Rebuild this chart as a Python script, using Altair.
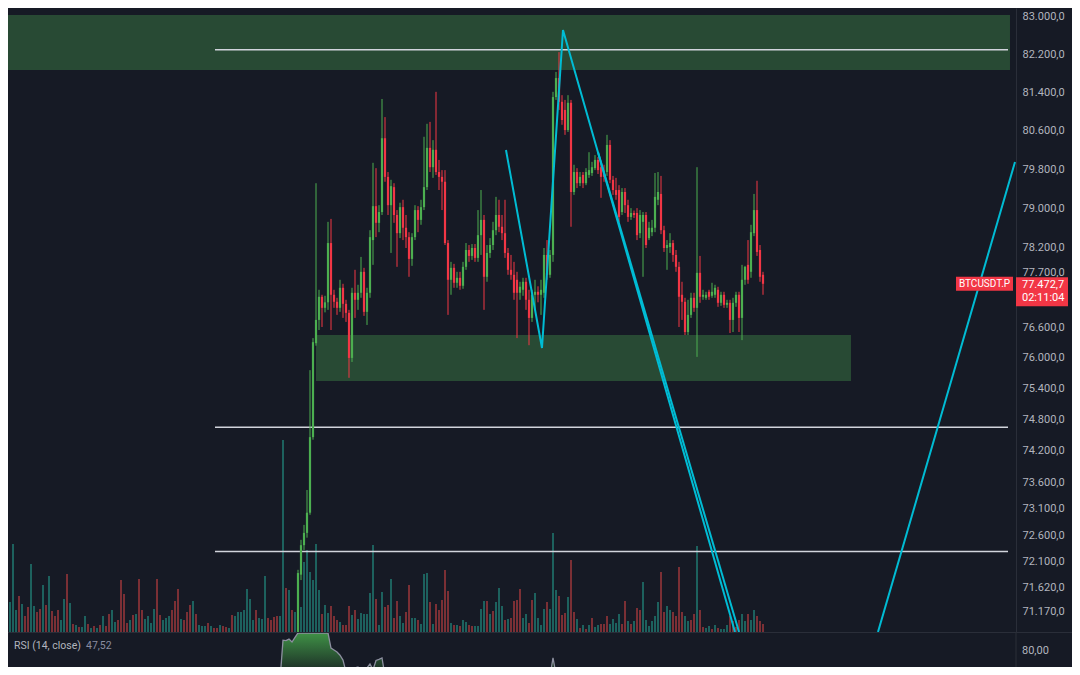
import altair as alt
import pandas as pd
import numpy as np

# ---------------- colours / styles ----------------
BG = "#161a25"
UP = "#4caf50"
DOWN = "#f23645"
VOL_UP = "#1f6f69"
VOL_DOWN = "#8e3439"
ZONE = "#284a34"
LEVEL = "#d1d4dc"
CYAN = "#00bcd4"
TEXT = "#b2b5be"
SEP = "#2a2e39"
FONT = "Roboto"

# ---------------- data ----------------
K0 = 96  # time index of the first candle visible in the price window

opens = [70660, 71860, 72410, 72640, 73020, 74460, 76290, 76750, 77210,
         76990,
         77100, 78290, 77250, 77110, 76990, 77390, 77070, 76890, 76000, 77290,
         77150, 77290, 77710, 76910, 77290, 78350, 79040, 78700, 78920, 80440,
         79640, 79060, 79430, 78860, 78490, 79020, 78600, 78410, 77970, 78410,
         78960, 78760, 79020, 79430, 80240, 79840, 80200, 79740, 79640, 79540,
         78290, 77550, 77790, 77490, 77590, 77430, 77810, 78150, 78030, 78190,
         77990, 78450, 78760, 77610, 78090, 78250, 78550, 78860, 78620, 78490,
         78090, 77750, 77650, 77550, 77290, 77350, 77510, 77150, 76790, 77250,
         77310,
         77250, 77290, 78050, 77650, 78050, 81300, 81700, 81200, 81030, 80610,
         81180, 79330, 79740, 79510, 79680, 79510, 79680, 79720, 79820, 79990,
         79840, 79740, 79740, 80300, 79580, 79370, 79370, 78920, 79330, 79060,
         78820, 78900,
         78900, 78490, 78720, 78860, 78390, 78510, 78600, 79170, 79290, 78550,
         78190, 78210, 78290, 78050, 77810, 77250, 77110, 76510, 76850, 77190,
         76990, 77690, 77210, 77190, 77310, 77230, 77250, 77350, 77090, 77250,
         77050,
         77090, 76750, 77090, 77250, 76790, 77550, 77850, 77710, 78490, 78960,
         78150, 77650]

highs = [71950, 72510, 72790, 73450, 75760, 76390, 79510, 77350, 77250,
         77230,
         78720, 78780, 77350, 77190, 77550, 77470, 77150, 76950, 77390, 77750,
         77450, 78010, 77790, 77390, 78550, 79930, 79820, 79060, 81260, 80880,
         79740, 79580, 79510, 78960, 79110, 79170, 78860, 78510, 78490, 79060,
         79040, 79170, 80470, 80740, 80780, 80400, 81410, 79990, 79780, 79780,
         78350, 77910, 77870, 77710, 77710, 77910, 78290, 78250, 78270, 78270,
         78960, 79370, 78860, 78250, 78390, 78720, 79230, 79170, 78860, 79170,
         78190, 78050, 77910, 77710, 77510, 77590, 77590, 77350, 77350, 77550,
         77420,
         77550, 78190, 78350, 78150, 81410, 81830, 82250, 81340, 81240, 81340,
         81240, 79890, 79820, 79740, 79740, 79820, 80150, 79950, 80090, 80050,
         79930, 79890, 80510, 80400, 79660, 79620, 79470, 79410, 79410, 79170,
         79000, 78950,
         79000, 78960, 78920, 78920, 78720, 78760, 79720, 79740, 79660, 78640,
         78350, 78490, 78350, 78150, 77910, 77510, 77190, 77150, 77290, 77290,
         79840, 78030, 77350, 77310, 77350, 77490, 77450, 77410, 77310, 77310,
         77150,
         77150, 77190, 77310, 77310, 77850, 77830, 78350, 78660, 79290, 79560,
         78250, 77710]

lows = [70570, 71760, 72320, 72550, 72980, 74410, 76240, 76550, 76610,
        76900,
        76950, 76550, 76990, 76850, 76910, 76790, 76710, 75610, 75920, 76790,
        76950, 77190, 76830, 76650, 77190, 77850, 78410, 78510, 78860, 79540,
        78860, 78090, 78700, 77810, 78390, 78350, 78190, 77610, 77830, 78350,
        78510, 78660, 78960, 79370, 79740, 79620, 79680, 79370, 78960, 78250,
        76850, 77250, 77390, 77390, 77350, 77370, 77750, 77910, 77950, 77910,
        77910, 78050, 76950, 77510, 77990, 78150, 78450, 78510, 78350, 77990,
        77650, 77550, 77150, 76390, 77150, 77230, 76950, 76250, 76710, 76950,
        77100,
        76850, 77190, 77550, 77590, 77910, 81240, 81030, 80720, 80510, 80570,
        78620, 79270, 79410, 79450, 79410, 79470, 79620, 79660, 79780, 79700,
        79210, 79540, 79660, 79510, 79270, 79170, 78720, 78860, 78900, 78720,
        78760, 78800,
        78350, 78390, 77610, 78190, 78350, 78430, 78510, 79060, 78470, 78110,
        77750, 78090, 77910, 77710, 76610, 76750, 76450, 76450, 76790, 76910,
        76020, 77090, 77150, 77150, 77150, 77190, 77190, 77010, 77030, 76990,
        76990,
        76490, 76510, 77010, 76510, 76350, 77450, 77470, 77590, 78430, 78030,
        77510, 77250]

closes = [71890, 72410, 72640, 73020, 74460, 76310, 76750, 77210, 76990,
          77100,
          78290, 77250, 77110, 76990, 77390, 77070, 76890, 76000, 77290, 77150,
          77290, 77710, 76910, 77290, 78410, 79040, 78700, 78920, 80440, 79640,
          79060, 79450, 78860, 78490, 79020, 78600, 78410, 77970, 78410, 78960,
          78760, 79020, 79430, 80240, 79840, 80200, 79740, 79640, 79540, 78290,
          77550, 77790, 77490, 77590, 77430, 77810, 78150, 78030, 78190, 77990,
          78450, 78760, 77610, 78090, 78250, 78550, 78860, 78620, 78490, 78090,
          77750, 77650, 77290, 77290, 77410, 77510, 77150, 76790, 77250, 77310,
          77250,
          77350, 78050, 77650, 78050, 81300, 81700, 81200, 80820, 80610, 81180,
          79330, 79740, 79510, 79640, 79510, 79740, 79780, 79840, 79990, 79780,
          79640, 79640, 80300, 79580, 79370, 79270, 78820, 79330, 79060, 78820,
          78900, 78860,
          78450, 78860, 78860, 78250, 78600, 78600, 79230, 79330, 78550, 78190,
          78250, 78290, 78050, 77810, 77210, 77110, 76510, 76850, 77190, 76990,
          77690, 77210, 77250, 77250, 77210, 77310, 77390, 77090, 77250, 77050,
          77090,
          76750, 77090, 77250, 76790, 77550, 77810, 77550, 78510, 78960, 78110,
          77610, 77470]

volumes = [30, 88, 22, 36, 28, 16, 25, 68, 26, 20,
           23, 47, 27, 56, 21, 16, 22, 12, 33, 58,
           29, 8, 7, 5, 5, 16, 8, 4, 6, 4,
           7, 16, 6, 18, 22, 10, 12, 52, 38, 9,
           12, 17, 18, 53, 22, 13, 16, 9, 23, 53,
           17, 12, 14, 16, 22, 31, 43, 13, 12, 20,
           27, 31, 18, 7, 6, 6, 9, 6, 4, 4,
           7, 6, 5, 4, 17, 16, 20, 20, 22, 43,
           33, 12, 22, 14, 13, 56, 14, 12, 15, 16,
           16, 192, 44, 42, 22, 20,
           40, 25, 70, 82, 60, 52, 88, 42,
           18, 27, 19, 26, 16, 12, 10, 7, 7, 26,
           17, 22, 13, 19, 18, 18, 39, 87, 33, 7,
           40, 25, 27, 53, 14, 31, 16, 9, 20, 47,
           14, 14, 12, 8, 58, 59, 30, 8, 28, 22,
           32, 62, 41, 9, 7, 7, 6, 12, 10, 7,
           6, 6, 6, 23, 31, 31, 18, 21, 30, 44,
           26, 12, 13, 14, 31, 32, 43, 14, 18, 9,
           32, 39, 14, 7, 23, 30, 23, 99, 42, 36,
           17, 19, 35, 72, 20, 13, 4, 7, 3, 7,
           14, 5, 7, 8, 8, 16, 8, 13, 9, 18,
           8, 31, 11, 8, 11, 24, 22, 50, 12, 6,
           11, 16, 30, 60, 20, 26, 22, 20, 16, 65,
           20, 16, 11, 12, 18, 86, 22, 5, 4, 6,
           3, 7, 4, 3, 3, 7, 16, 11, 5, 12,
           18, 11, 18, 12, 22, 16, 11, 8]

vol_up = [1, 1, 1, 0, 1, 0, 0, 1, 1, 0,
          0, 1, 0, 1, 0, 0, 0, 1, 1, 0,
          1, 0, 1, 0, 1, 1, 0, 1, 0, 1,
          0, 1, 0, 0, 1, 1, 0, 0, 0, 0,
          1, 0, 1, 0, 0, 1, 1, 1, 1, 0,
          0, 1, 1, 1, 0, 0, 0, 1, 0, 0,
          0, 1, 0, 1, 1, 1, 0, 1, 0, 0,
          1, 0, 0, 1, 0, 1, 1, 1, 1, 1,
          1, 1, 0, 1, 1, 1, 0, 0, 0, 0,
          1, 1, 0, 1, 0, 1,
          1, 1, 1, 1, 1, 1, 1, 1,
          0, 1, 1, 0, 0, 0, 1, 0, 0, 0,
          1, 0, 1, 1, 1, 1, 1, 1, 0, 1,
          1, 0, 0, 1, 0, 0, 1, 1, 0, 0,
          1, 1, 0, 1, 1, 1, 0, 1, 0, 0,
          0, 0, 0, 1, 0, 1, 0, 1, 1, 0,
          0, 1, 1, 1, 1, 0, 1, 0, 1, 1,
          1, 0, 1, 0, 0, 0, 0, 1, 1, 0,
          0, 1, 1, 1, 1, 0, 1, 1, 1, 0,
          0, 0, 1, 0, 0, 1, 0, 1, 0, 1,
          0, 1, 1, 0, 0, 0, 1, 1, 1, 1,
          0, 0, 1, 0, 1, 0, 0, 1, 1, 1,
          1, 1, 1, 0, 0, 1, 1, 0, 0, 0,
          0, 1, 1, 0, 0, 1, 0, 0, 1, 1,
          0, 1, 0, 1, 1, 1, 0, 0, 0, 0,
          1, 1, 0, 1, 1, 0, 0, 0]

rsi_k = [84, 85, 86, 88, 90, 91, 92, 93, 94, 95, 96, 97, 100, 103, 106, 107,
         108, 109, 110, 111, 112, 113, 114, 115, 116, 117, 118, 119, 120, 121,
         122, 123, 124, 125, 128, 140, 160, 175, 179, 180, 181, 182, 184, 200,
         230, 251]
rsi_v = [71.5, 66, 60, 57, 66, 85.2, 85.0, 85.7, 84.3, 86.5, 92, 95, 97, 95,
         90, 81.4, 80.5, 79.5, 78, 75.7, 70, 71.9, 71, 72, 72.4, 70, 69, 72,
         73.8, 71, 75.5, 76, 76.7, 68, 60, 55, 52, 58, 62, 68, 76.7, 69, 60,
         55, 45, 47.52]

# zones (time index start/end, price low/high)
zone_k1 = [-2 / 3, 102]
zone_k2 = [333.33, 280.33]
zone_p1 = [81870, 75550]
zone_p2 = [83040, 76450]

# horizontal levels
level_p = [82300, 74650, 72290]
level_k1 = [68.33, 68.33, 68.33]
level_k2 = [332.67, 332.67, 332.67]

# cyan drawings
draw_g = ["a", "a", "a", "a", "b", "b", "c", "c"]
draw_k = [165.33, 177.33, 184.33, 241.67, 196, 243, 289.33, 335]
draw_p = [80196, 76195, 82722, 70803, 80154, 70803, 70803, 79947]

price_ticks = [83000, 82200, 81400, 80600, 79800, 79000, 78200, 77700, 76600,
               76000, 75400, 74800, 74200, 73600, 73100, 72600, 72100, 71620,
               71170]
last_price = 77472.7
last_label = "77.472,7"
countdown = "02:11:04"
symbol = "BTCUSDT.P"
rsi_title = "RSI (14, close)"
rsi_last = "47,52"

# ---------------- frames ----------------
cdf = pd.DataFrame({"o": opens, "h": highs, "l": lows, "c": closes})
cdf["k"] = np.arange(K0, K0 + len(cdf))
cdf["col"] = np.where(cdf["c"] >= cdf["o"], UP, DOWN)

vdf = pd.DataFrame({"v": volumes, "up": vol_up})
vdf["k"] = np.arange(len(vdf))
vdf["v0"] = 0
vdf["col"] = np.where(vdf["up"] == 1, VOL_UP, VOL_DOWN)

rdf = pd.DataFrame({"k": rsi_k, "rsi": rsi_v})
rdf["top"] = np.maximum(rdf["rsi"], 70)
rdf["base"] = 70

zdf = pd.DataFrame({"k1": zone_k1, "k2": zone_k2, "p1": zone_p1, "p2": zone_p2})
ldf = pd.DataFrame({"k1": level_k1, "k2": level_k2, "p": level_p})
ddf = pd.DataFrame({"g": draw_g, "k": draw_k, "p": draw_p})
ddf["ord"] = np.arange(len(ddf))
pdf = pd.DataFrame({"price": [last_price], "lbl": [last_label], "cd": [countdown],
                    "sym": [symbol]})
one = pd.DataFrame({"a": [0]})
rlab = pd.DataFrame({"rsi": [80], "lbl": ["80,00"]})
r70 = pd.DataFrame({"rsi": [70]})

# ---------------- scales ----------------
xs = alt.Scale(domain=[-2 / 3, 1006 / 3], nice=False, zero=False, padding=0)
ps = alt.Scale(type="log", domain=[70803, 83193], range=[624, 0], nice=False, clamp=True)
vs = alt.Scale(domain=[0, 200], range=[624, 424], nice=False, zero=False)
rs = alt.Scale(domain=[60, 88.6], range=[685, 625], nice=False, zero=False, clamp=True)

price_axis = alt.Axis(
    orient="right", values=price_ticks,
    labelExpr="replace(replace(replace(format(datum.value, ',.1f'), ',', '#'), '.', ','), '#', '.')",
    ticks=False, grid=False, domain=True, domainColor=SEP, domainWidth=1,
    labelColor=TEXT, labelFont=FONT, labelFontSize=11, labelPadding=6,
    labelAlign="left", labelBaseline="middle", labelOverlap=False, title=None,
    labelFlush=False)

X = lambda f: alt.X(f, scale=xs, axis=None)

zones = alt.Chart(zdf).mark_rect(color=ZONE).encode(
    x=X("k1:Q"), x2="k2:Q",
    y=alt.Y("p1:Q", scale=ps, axis=price_axis), y2="p2:Q")

vol = alt.Chart(vdf).mark_bar(size=1.7, orient="vertical").encode(
    x=X("k:Q"), y=alt.Y("v:Q", scale=vs, axis=None), y2="v0:Q",
    color=alt.Color("col:N", scale=None))

levels = alt.Chart(ldf).mark_rule(color=LEVEL, strokeWidth=1.5).encode(
    x=X("k1:Q"), x2="k2:Q", y=alt.Y("p:Q", scale=ps, axis=None))

wicks = alt.Chart(cdf).mark_rule(strokeWidth=1).encode(
    x=X("k:Q"), y=alt.Y("l:Q", scale=ps, axis=None), y2="h:Q",
    color=alt.Color("col:N", scale=None))

bodies = alt.Chart(cdf).mark_bar(size=2.2, orient="vertical").encode(
    x=X("k:Q"), y=alt.Y("o:Q", scale=ps, axis=None), y2="c:Q",
    color=alt.Color("col:N", scale=None))

draws = alt.Chart(ddf).mark_line(color=CYAN, strokeWidth=2).encode(
    x=X("k:Q"), y=alt.Y("p:Q", scale=ps, axis=None), detail="g:N",
    order="ord:Q")

rsi_area = alt.Chart(rdf).mark_area(
    color=alt.Gradient(gradient="linear",
                       stops=[alt.GradientStop(color="#3f9146", offset=0),
                              alt.GradientStop(color="#1b2a25", offset=1)],
                       x1=0, x2=0, y1=0, y2=1)).encode(
    x=X("k:Q"), y=alt.Y("top:Q", scale=rs, axis=None), y2="base:Q")

rsi_70 = alt.Chart(r70).mark_rule(color="#787b86", strokeWidth=1, strokeDash=[4, 4]).encode(
    x=alt.value(0), x2=alt.value(1008), y=alt.Y("rsi:Q", scale=rs, axis=None))

rsi_line = alt.Chart(rdf).mark_line(color="#8d8fa0", strokeWidth=1.3).encode(
    x=X("k:Q"), y=alt.Y("rsi:Q", scale=rs, axis=None))

sep_h = alt.Chart(one).mark_rule(color=SEP, strokeWidth=1).encode(
    x=alt.value(0), x2=alt.value(1064), y=alt.value(624.5))
sep_v = alt.Chart(one).mark_rule(color=SEP, strokeWidth=1).encode(
    x=alt.value(1008), y=alt.value(624), y2=alt.value(659))

sym_box = alt.Chart(pdf).mark_rule(color=DOWN, strokeWidth=14).encode(
    x=alt.value(948), x2=alt.value(1005), y=alt.Y("price:Q", scale=ps, axis=None))
sym_txt = alt.Chart(pdf).mark_text(color="white", font=FONT, fontSize=10,
                                   align="center", baseline="middle").encode(
    x=alt.value(976.5), y=alt.Y("price:Q", scale=ps, axis=None), text="sym:N")
px_box = alt.Chart(pdf).mark_rule(color=DOWN, strokeWidth=29, yOffset=8).encode(
    x=alt.value(1008), x2=alt.value(1060), y=alt.Y("price:Q", scale=ps, axis=None))
px_txt = alt.Chart(pdf).mark_text(color="white", font=FONT, fontSize=11,
                                  align="left", baseline="middle", dy=1).encode(
    x=alt.value(1014), y=alt.Y("price:Q", scale=ps, axis=None), text="lbl:N")
cd_txt = alt.Chart(pdf).mark_text(color="white", font=FONT, fontSize=11,
                                  align="left", baseline="middle", dy=14).encode(
    x=alt.value(1014), y=alt.Y("price:Q", scale=ps, axis=None), text="cd:N")

rsi_t1 = alt.Chart(one).mark_text(text=rsi_title, color=TEXT, font=FONT, fontSize=10.5,
                                  align="left", baseline="middle").encode(
    x=alt.value(6), y=alt.value(638))
rsi_t2 = alt.Chart(one).mark_text(text=rsi_last, color="#8a8ca0", font=FONT, fontSize=10.5,
                                  align="left", baseline="middle").encode(
    x=alt.value(78), y=alt.value(638))
rsi_ax = alt.Chart(rlab).mark_text(color=TEXT, font=FONT, fontSize=11,
                                   align="left", baseline="middle").encode(
    x=alt.value(1014), y=alt.Y("rsi:Q", scale=rs, axis=None), text="lbl:N")

chart = alt.layer(
    zones, vol, levels, wicks, bodies, draws, rsi_area, rsi_70, rsi_line,
    sep_h, sep_v, sym_box, sym_txt, px_box, px_txt, cd_txt, rsi_t1, rsi_t2, rsi_ax
).resolve_scale(y="independent").properties(
    width=1008, height=659,
    autosize=alt.AutoSizeParams(type="none"),
    padding={"left": 0, "top": 0, "right": 56, "bottom": 0},
).configure(background=BG).configure_view(strokeWidth=0)

chart.save("out.html", embed_options={"renderer": "svg", "actions": False})
